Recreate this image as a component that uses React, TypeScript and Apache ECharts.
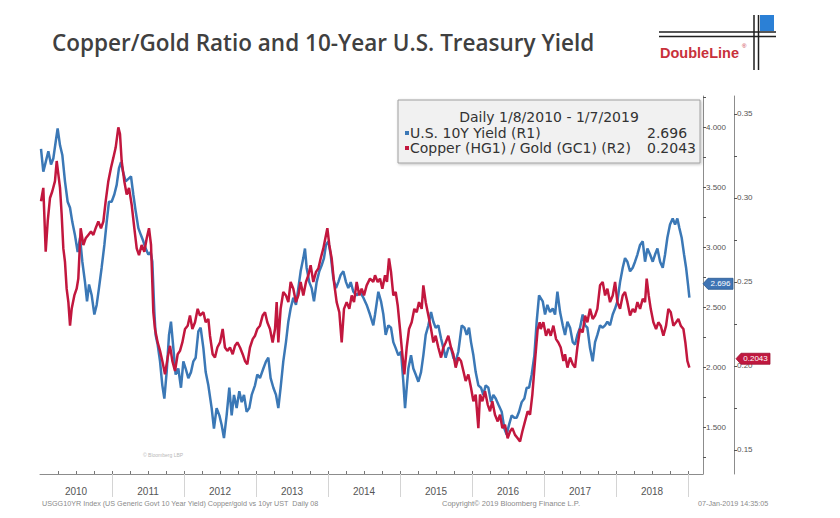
import React, { useEffect, useRef } from "react";
import * as echarts from "echarts";

const TITLE = "Copper/Gold Ratio and 10-Year U.S. Treasury Yield";
const LEGEND_HEADER = "Daily 1/8/2010 - 1/7/2019";
const YIELD_NAME = "U.S. 10Y Yield (R1)";
const RATIO_NAME = "Copper (HG1) / Gold (GC1) (R2)";
const LAST_YIELD = 2.696;
const LAST_RATIO = 0.2043;

const yearLabels = [2010, 2011, 2012, 2013, 2014, 2015, 2016, 2017, 2018];
const yearBoundaries = [2011, 2012, 2013, 2014, 2015, 2016, 2017, 2018, 2019];
const yieldTicks = [1.5, 2.0, 2.5, 3.0, 3.5, 4.0];
const ratioTicks = [0.15, 0.2, 0.25, 0.3, 0.35];

// US 10Y yield (R1) — [decimal year, %]
const yieldSeries: [number, number][] = [
  [2010.014, 3.82], [2010.046, 3.63], [2010.079, 3.71], [2010.116, 3.8], [2010.153, 3.69], [2010.185, 3.74], [2010.218, 3.88], [2010.245, 3.99], [2010.278, 3.85], [2010.31, 3.77], [2010.347, 3.55], [2010.384, 3.38], [2010.417, 3.33], [2010.449, 3.21], [2010.486, 3.1], [2010.523, 2.96], [2010.556, 3.08], [2010.588, 2.88], [2010.625, 2.71], [2010.653, 2.55], [2010.681, 2.69], [2010.718, 2.6], [2010.755, 2.44], [2010.787, 2.52], [2010.819, 2.66], [2010.856, 2.83], [2010.894, 3.02], [2010.926, 3.21], [2010.958, 3.38], [2010.995, 3.38],
  [2011.032, 3.44], [2011.065, 3.52], [2011.097, 3.66], [2011.125, 3.71], [2011.157, 3.62], [2011.19, 3.55], [2011.227, 3.57], [2011.264, 3.59], [2011.296, 3.44], [2011.329, 3.3], [2011.366, 3.16], [2011.403, 3.1], [2011.435, 3.05], [2011.468, 2.99], [2011.505, 2.94], [2011.537, 2.96], [2011.56, 2.88], [2011.588, 2.46], [2011.606, 2.27], [2011.634, 2.19], [2011.667, 2.05], [2011.699, 1.85], [2011.727, 1.74], [2011.759, 1.96], [2011.792, 2.27], [2011.819, 2.38], [2011.852, 2.16], [2011.884, 1.94], [2011.921, 1.99], [2011.958, 1.83], [2011.991, 2.05],
  [2012.023, 1.99], [2012.06, 1.91], [2012.097, 1.96], [2012.13, 2.05], [2012.162, 2.08], [2012.199, 2.3], [2012.231, 2.33], [2012.269, 2.16], [2012.301, 1.96], [2012.338, 1.85], [2012.384, 1.66], [2012.416, 1.49], [2012.453, 1.66], [2012.491, 1.6], [2012.523, 1.52], [2012.555, 1.41], [2012.592, 1.6], [2012.629, 1.83], [2012.662, 1.6], [2012.694, 1.77], [2012.731, 1.66], [2012.768, 1.8], [2012.801, 1.71], [2012.833, 1.77], [2012.87, 1.63], [2012.907, 1.66], [2012.94, 1.77], [2012.986, 1.85],
  [2013.018, 1.94], [2013.055, 1.91], [2013.102, 1.99], [2013.139, 2.05], [2013.171, 2.08], [2013.203, 1.91], [2013.241, 1.83], [2013.278, 1.77], [2013.31, 1.66], [2013.342, 1.83], [2013.379, 2.05], [2013.416, 2.21], [2013.449, 2.38], [2013.481, 2.49], [2013.518, 2.58], [2013.555, 2.52], [2013.588, 2.66], [2013.62, 2.8], [2013.657, 2.91], [2013.68, 2.99], [2013.703, 2.83], [2013.74, 2.71], [2013.773, 2.66], [2013.805, 2.55], [2013.842, 2.71], [2013.879, 2.8], [2013.912, 2.85], [2013.944, 2.91], [2013.972, 3.02],
  [2014.004, 3.05], [2014.037, 2.94], [2014.074, 2.74], [2014.111, 2.66], [2014.143, 2.71], [2014.176, 2.77], [2014.213, 2.8], [2014.25, 2.71], [2014.282, 2.66], [2014.315, 2.71], [2014.352, 2.63], [2014.398, 2.6], [2014.444, 2.63], [2014.491, 2.58], [2014.537, 2.52], [2014.583, 2.44], [2014.629, 2.35], [2014.653, 2.44], [2014.699, 2.63], [2014.736, 2.55], [2014.769, 2.44], [2014.801, 2.27], [2014.838, 2.35], [2014.875, 2.33], [2014.907, 2.21], [2014.94, 2.16], [2014.977, 2.1],
  [2015.014, 2.13], [2015.046, 1.88], [2015.07, 1.66], [2015.093, 1.83], [2015.116, 1.99], [2015.153, 2.1], [2015.185, 1.99], [2015.218, 1.94], [2015.255, 1.88], [2015.292, 1.96], [2015.324, 2.1], [2015.357, 2.27], [2015.394, 2.35], [2015.431, 2.46], [2015.463, 2.38], [2015.495, 2.33], [2015.532, 2.35], [2015.57, 2.24], [2015.602, 2.16], [2015.634, 2.08], [2015.671, 2.16], [2015.708, 2.16], [2015.741, 2.08], [2015.773, 2.05], [2015.81, 2.13], [2015.857, 2.35], [2015.894, 2.33], [2015.926, 2.27], [2015.958, 2.33], [2015.986, 2.21],
  [2016.019, 2.1], [2016.051, 1.96], [2016.088, 1.85], [2016.125, 1.83], [2016.157, 1.77], [2016.19, 1.85], [2016.227, 1.83], [2016.264, 1.71], [2016.296, 1.77], [2016.329, 1.74], [2016.366, 1.69], [2016.412, 1.63], [2016.449, 1.49], [2016.481, 1.44], [2016.514, 1.52], [2016.551, 1.6], [2016.588, 1.58], [2016.62, 1.58], [2016.653, 1.63], [2016.69, 1.71], [2016.727, 1.74], [2016.759, 1.83], [2016.792, 1.83], [2016.829, 1.94], [2016.866, 2.1], [2016.898, 2.38], [2016.931, 2.6], [2016.982, 2.55],
  [2017.014, 2.44], [2017.047, 2.52], [2017.084, 2.46], [2017.121, 2.49], [2017.153, 2.44], [2017.186, 2.63], [2017.223, 2.46], [2017.26, 2.35], [2017.292, 2.27], [2017.325, 2.38], [2017.362, 2.33], [2017.399, 2.21], [2017.431, 2.19], [2017.463, 2.27], [2017.5, 2.33], [2017.537, 2.44], [2017.57, 2.35], [2017.602, 2.33], [2017.639, 2.16], [2017.676, 2.05], [2017.709, 2.21], [2017.741, 2.27], [2017.778, 2.35], [2017.815, 2.33], [2017.848, 2.35], [2017.88, 2.38], [2017.917, 2.35], [2017.954, 2.44], [2017.987, 2.49],
  [2018.019, 2.55], [2018.056, 2.71], [2018.093, 2.83], [2018.125, 2.91], [2018.158, 2.88], [2018.195, 2.8], [2018.232, 2.83], [2018.264, 2.88], [2018.297, 2.94], [2018.334, 3.02], [2018.371, 3.05], [2018.403, 2.88], [2018.436, 2.99], [2018.473, 2.94], [2018.51, 2.88], [2018.542, 2.94], [2018.575, 2.99], [2018.612, 2.88], [2018.649, 2.83], [2018.681, 2.94], [2018.713, 3.08], [2018.75, 3.19], [2018.787, 3.24], [2018.82, 3.19], [2018.852, 3.24], [2018.88, 3.16], [2018.912, 3.08], [2018.945, 2.94], [2018.973, 2.83], [2019.0, 2.69], [2019.019, 2.58],
];

// Copper (HG1) / Gold (GC1) ratio (R2) — [decimal year, ratio]
const ratioSeries: [number, number][] = [
  [2010.014, 0.298], [2010.046, 0.306], [2010.079, 0.268], [2010.107, 0.286], [2010.139, 0.3], [2010.171, 0.304], [2010.208, 0.31], [2010.232, 0.322], [2010.255, 0.314], [2010.278, 0.306], [2010.301, 0.29], [2010.324, 0.27], [2010.347, 0.262], [2010.37, 0.246], [2010.394, 0.238], [2010.417, 0.224], [2010.44, 0.234], [2010.477, 0.242], [2010.509, 0.246], [2010.532, 0.252], [2010.565, 0.282], [2010.602, 0.272], [2010.634, 0.276], [2010.671, 0.278], [2010.708, 0.28], [2010.741, 0.278], [2010.773, 0.282], [2010.81, 0.286], [2010.847, 0.282], [2010.88, 0.286], [2010.912, 0.298], [2010.949, 0.31], [2010.986, 0.318],
  [2011.019, 0.324], [2011.051, 0.33], [2011.088, 0.342], [2011.111, 0.338], [2011.134, 0.322], [2011.171, 0.31], [2011.204, 0.302], [2011.236, 0.306], [2011.273, 0.296], [2011.31, 0.282], [2011.343, 0.27], [2011.375, 0.266], [2011.412, 0.272], [2011.449, 0.268], [2011.482, 0.276], [2011.514, 0.282], [2011.542, 0.272], [2011.574, 0.232], [2011.597, 0.222], [2011.634, 0.214], [2011.667, 0.209], [2011.699, 0.203], [2011.736, 0.195], [2011.773, 0.205], [2011.806, 0.212], [2011.838, 0.203], [2011.875, 0.197], [2011.912, 0.207], [2011.944, 0.209], [2011.977, 0.214],
  [2012.014, 0.222], [2012.051, 0.224], [2012.083, 0.23], [2012.116, 0.222], [2012.153, 0.226], [2012.19, 0.234], [2012.222, 0.23], [2012.269, 0.232], [2012.301, 0.226], [2012.338, 0.228], [2012.361, 0.218], [2012.398, 0.207], [2012.43, 0.205], [2012.463, 0.211], [2012.5, 0.214], [2012.537, 0.222], [2012.569, 0.211], [2012.602, 0.209], [2012.639, 0.211], [2012.676, 0.207], [2012.708, 0.212], [2012.741, 0.214], [2012.778, 0.211], [2012.815, 0.207], [2012.847, 0.203], [2012.879, 0.201], [2012.916, 0.211], [2012.954, 0.216], [2012.986, 0.218],
  [2013.018, 0.222], [2013.055, 0.224], [2013.092, 0.23], [2013.125, 0.232], [2013.157, 0.226], [2013.194, 0.222], [2013.231, 0.214], [2013.264, 0.222], [2013.287, 0.238], [2013.31, 0.214], [2013.342, 0.234], [2013.379, 0.244], [2013.416, 0.242], [2013.449, 0.238], [2013.481, 0.25], [2013.518, 0.246], [2013.555, 0.238], [2013.588, 0.242], [2013.62, 0.25], [2013.657, 0.242], [2013.694, 0.25], [2013.727, 0.254], [2013.759, 0.26], [2013.796, 0.25], [2013.833, 0.256], [2013.866, 0.258], [2013.898, 0.264], [2013.935, 0.27], [2013.963, 0.276], [2013.991, 0.282],
  [2014.018, 0.272], [2014.051, 0.264], [2014.083, 0.25], [2014.12, 0.238], [2014.157, 0.232], [2014.19, 0.214], [2014.222, 0.234], [2014.259, 0.238], [2014.296, 0.234], [2014.329, 0.242], [2014.361, 0.238], [2014.398, 0.25], [2014.435, 0.242], [2014.467, 0.246], [2014.5, 0.242], [2014.537, 0.248], [2014.583, 0.252], [2014.629, 0.25], [2014.653, 0.254], [2014.69, 0.25], [2014.722, 0.252], [2014.755, 0.246], [2014.792, 0.254], [2014.819, 0.25], [2014.847, 0.264], [2014.875, 0.256], [2014.907, 0.242], [2014.94, 0.244], [2014.968, 0.236],
  [2015.0, 0.222], [2015.032, 0.207], [2015.06, 0.195], [2015.093, 0.211], [2015.125, 0.222], [2015.162, 0.226], [2015.199, 0.234], [2015.232, 0.232], [2015.264, 0.238], [2015.301, 0.234], [2015.324, 0.248], [2015.357, 0.238], [2015.394, 0.23], [2015.431, 0.222], [2015.463, 0.214], [2015.495, 0.218], [2015.532, 0.211], [2015.57, 0.205], [2015.602, 0.211], [2015.634, 0.214], [2015.671, 0.218], [2015.708, 0.211], [2015.741, 0.207], [2015.773, 0.199], [2015.81, 0.205], [2015.847, 0.203], [2015.88, 0.197], [2015.912, 0.191], [2015.949, 0.195], [2015.986, 0.187],
  [2016.019, 0.179], [2016.051, 0.183], [2016.088, 0.163], [2016.111, 0.183], [2016.144, 0.179], [2016.181, 0.185], [2016.218, 0.177], [2016.25, 0.173], [2016.282, 0.179], [2016.319, 0.171], [2016.357, 0.167], [2016.389, 0.171], [2016.421, 0.163], [2016.458, 0.165], [2016.495, 0.157], [2016.528, 0.161], [2016.56, 0.163], [2016.597, 0.159], [2016.634, 0.157], [2016.667, 0.155], [2016.699, 0.161], [2016.736, 0.167], [2016.773, 0.173], [2016.806, 0.171], [2016.838, 0.183], [2016.875, 0.203], [2016.912, 0.222], [2016.94, 0.226], [2016.954, 0.222], [2016.991, 0.226],
  [2017.028, 0.218], [2017.061, 0.222], [2017.093, 0.218], [2017.13, 0.224], [2017.167, 0.216], [2017.199, 0.214], [2017.232, 0.211], [2017.269, 0.203], [2017.292, 0.207], [2017.325, 0.199], [2017.362, 0.205], [2017.399, 0.201], [2017.431, 0.199], [2017.463, 0.211], [2017.5, 0.222], [2017.537, 0.22], [2017.57, 0.23], [2017.602, 0.226], [2017.639, 0.234], [2017.676, 0.228], [2017.709, 0.23], [2017.741, 0.234], [2017.778, 0.248], [2017.815, 0.25], [2017.848, 0.242], [2017.88, 0.246], [2017.917, 0.238], [2017.954, 0.242], [2017.987, 0.25],
  [2018.019, 0.238], [2018.056, 0.234], [2018.093, 0.242], [2018.125, 0.244], [2018.158, 0.238], [2018.195, 0.23], [2018.232, 0.234], [2018.264, 0.232], [2018.297, 0.238], [2018.334, 0.234], [2018.371, 0.24], [2018.403, 0.238], [2018.426, 0.252], [2018.454, 0.242], [2018.482, 0.234], [2018.519, 0.226], [2018.556, 0.222], [2018.588, 0.226], [2018.621, 0.224], [2018.658, 0.218], [2018.695, 0.224], [2018.727, 0.234], [2018.76, 0.232], [2018.797, 0.224], [2018.834, 0.226], [2018.866, 0.228], [2018.899, 0.224], [2018.936, 0.222], [2018.963, 0.214], [2018.991, 0.203], [2019.019, 0.199],
];

const BLUE = "#3b78b6";
const RED = "#c2173e";
const X_MIN = 2010;
const X_MAX = 2019.208;
const Y1_MIN = 1.111;
const Y1_MAX = 4.261;
const Y2_MIN = 0.1357;
const Y2_MAX = 0.3607;

function steps(from: number, to: number, step: number): number[] {
  const out: number[] = [];
  for (let v = from; v <= to + 1e-9; v += step) out.push(Math.round(v * 10000) / 10000);
  return out;
}

export default function App() {
  const ref = useRef<HTMLDivElement>(null);

  useEffect(() => {
    if (!ref.current) return;
    const chart = echarts.init(ref.current, null, { renderer: "svg" });
    const labelFont = "Liberation Sans";

    chart.setOption({
      animation: false,
      backgroundColor: "#ffffff",
      grid: { left: 40, right: 137, top: 96, bottom: 44, containLabel: false },
      xAxis: [
        {
          type: "value",
          min: X_MIN,
          max: X_MAX,
          position: "bottom",
          axisLine: { show: true, lineStyle: { color: "#8c8c8c", width: 1 } },
          axisTick: {
            show: true,
            inside: false,
            length: 23,
            customValues: yearBoundaries,
            lineStyle: { color: "#d4d4d4", width: 1 },
          },
          axisLabel: {
            show: true,
            customValues: yearLabels.map((y) => y + 0.5),
            formatter: (v: number) => String(Math.floor(v)),
            margin: 12,
            fontSize: 10,
            fontFamily: labelFont,
            color: "#555",
          },
          splitLine: { show: false },
        },
        {
          type: "value",
          min: X_MIN,
          max: X_MAX,
          position: "bottom",
          axisLine: { show: false },
          axisTick: {
            show: true,
            inside: true,
            length: 3,
            customValues: steps(2010.25, 2019, 0.25),
            lineStyle: { color: "#777", width: 1 },
          },
          axisLabel: { show: false },
          splitLine: { show: false },
        },
      ],
      yAxis: [
        {
          type: "value",
          position: "right",
          min: Y1_MIN,
          max: Y1_MAX,
          offset: 0,
          axisLine: { show: true, lineStyle: { color: "#8c8c8c", width: 1 } },
          axisTick: {
            show: true,
            length: 3,
            customValues: steps(1.25, 4.25, 0.25),
            lineStyle: { color: "#555" },
          },
          axisLabel: {
            customValues: yieldTicks,
            formatter: (v: number) => v.toFixed(3),
            fontSize: 8,
            fontFamily: labelFont,
            color: "#555",
            margin: 3,
          },
          splitLine: { show: false },
        },
        {
          type: "value",
          position: "right",
          min: Y2_MIN,
          max: Y2_MAX,
          offset: 31,
          axisLine: { show: true, lineStyle: { color: "#8c8c8c", width: 1 } },
          axisTick: {
            show: true,
            length: 3,
            customValues: steps(0.15, 0.35, 0.025),
            lineStyle: { color: "#555" },
          },
          axisLabel: {
            customValues: ratioTicks,
            formatter: (v: number) => v.toFixed(2),
            fontSize: 8,
            fontFamily: labelFont,
            color: "#555",
            margin: 3,
          },
          splitLine: { show: false },
        },
      ],
      series: [
        {
          name: YIELD_NAME,
          type: "line",
          xAxisIndex: 0,
          yAxisIndex: 0,
          data: yieldSeries,
          showSymbol: false,
          lineStyle: { color: BLUE, width: 2.5 },
          itemStyle: { color: BLUE },
          z: 2,
        },
        {
          name: RATIO_NAME,
          type: "line",
          xAxisIndex: 0,
          yAxisIndex: 1,
          data: ratioSeries,
          showSymbol: false,
          lineStyle: { color: RED, width: 2.5 },
          itemStyle: { color: RED },
          z: 3,
        },
      ],
    });

    const yB = chart.convertToPixel({ yAxisIndex: 0 }, LAST_YIELD) as number;
    const yR = chart.convertToPixel({ yAxisIndex: 1 }, LAST_RATIO) as number;
    const legendFont = '14px "DejaVu Sans"';
    const footFont = '7.2px "Liberation Sans"';

    chart.setOption({
      graphic: [
        // title
        { type: "text", x: 52, y: 42, z: 10, style: { text: TITLE, font: '600 22.5px "Open Sans"', fill: "#404040", verticalAlign: "middle" } },
        // logo
        { type: "line", z: 10, shape: { x1: 659, y1: 32, x2: 776, y2: 32 }, style: { stroke: "#1f1f1f", lineWidth: 1.5 } },
        { type: "line", z: 10, shape: { x1: 659, y1: 36.5, x2: 776, y2: 36.5 }, style: { stroke: "#1f1f1f", lineWidth: 1.5 } },
        { type: "line", z: 10, shape: { x1: 754, y1: 15, x2: 754, y2: 70 }, style: { stroke: "#1f1f1f", lineWidth: 1.5 } },
        { type: "line", z: 10, shape: { x1: 758.5, y1: 15, x2: 758.5, y2: 70 }, style: { stroke: "#1f1f1f", lineWidth: 1.5 } },
        { type: "rect", z: 11, shape: { x: 760, y: 15, width: 14, height: 16 }, style: { fill: "#2b80d6" } },
        { type: "text", x: 660, y: 53, z: 10, style: { text: "DoubleLine", font: 'bold 14.5px "Liberation Sans"', fill: "#c8313b", verticalAlign: "middle" } },
        { type: "text", x: 742, y: 46, z: 10, style: { text: "®", font: '6px "Liberation Sans"', fill: "#c8313b", verticalAlign: "middle" } },
        // legend box
        {
          type: "rect",
          z: 20,
          shape: { x: 398, y: 100, width: 302, height: 63 },
          style: { fill: "#f1f1f1", stroke: "#a0a0a0", lineWidth: 1, shadowBlur: 3, shadowOffsetX: 1, shadowOffsetY: 1, shadowColor: "rgba(0,0,0,0.25)" },
        },
        { type: "text", x: 549, y: 117, z: 21, style: { text: LEGEND_HEADER, font: legendFont, fill: "#333", align: "center", verticalAlign: "middle" } },
        { type: "rect", z: 21, shape: { x: 405, y: 131, width: 4, height: 4 }, style: { fill: BLUE } },
        { type: "text", x: 410, y: 133, z: 21, style: { text: YIELD_NAME, font: legendFont, fill: "#333", verticalAlign: "middle" } },
        { type: "text", x: 647, y: 133, z: 21, style: { text: LAST_YIELD.toFixed(3), font: legendFont, fill: "#333", verticalAlign: "middle" } },
        { type: "rect", z: 21, shape: { x: 405, y: 146, width: 4, height: 4 }, style: { fill: RED } },
        { type: "text", x: 410, y: 148, z: 21, style: { text: RATIO_NAME, font: legendFont, fill: "#333", verticalAlign: "middle" } },
        { type: "text", x: 647, y: 148, z: 21, style: { text: LAST_RATIO.toFixed(4), font: legendFont, fill: "#333", verticalAlign: "middle" } },
        // last value tags
        {
          type: "polygon",
          z: 30,
          shape: { points: [[703, yB], [708, yB - 5.5], [733, yB - 5.5], [733, yB + 5.5], [708, yB + 5.5]] },
          style: { fill: "#3f74b4", stroke: "#2b5a90", lineWidth: 0.8 },
        },
        { type: "text", x: 720.5, y: yB, z: 31, style: { text: LAST_YIELD.toFixed(3), font: '8px "Liberation Sans"', fill: "#ffffff", align: "center", verticalAlign: "middle" } },
        {
          type: "polygon",
          z: 30,
          shape: { points: [[736, yR], [741, yR - 5.5], [770, yR - 5.5], [770, yR + 5.5], [741, yR + 5.5]] },
          style: { fill: "#c0183f", stroke: "#9e1233", lineWidth: 0.8 },
        },
        { type: "text", x: 755.5, y: yR, z: 31, style: { text: LAST_RATIO.toFixed(4), font: '8px "Liberation Sans"', fill: "#ffffff", align: "center", verticalAlign: "middle" } },
        // watermark & footer
        { type: "text", x: 143, y: 455, z: 5, style: { text: "© Bloomberg LBP", font: '5px "Liberation Sans"', fill: "#b8b8b8", verticalAlign: "middle" } },
        { type: "text", x: 42, y: 503, z: 5, style: { text: "USGG10YR Index (US Generic Govt 10 Year Yield) Copper/gold vs 10yr UST  Daily 08", font: footFont, fill: "#8a8a8a", verticalAlign: "middle" } },
        { type: "text", x: 442, y: 503, z: 5, style: { text: "Copyright© 2019 Bloomberg Finance L.P.", font: '7.5px "Liberation Sans"', fill: "#8a8a8a", verticalAlign: "middle" } },
        { type: "text", x: 698, y: 503, z: 5, style: { text: "07-Jan-2019 14:35:05", font: footFont, fill: "#8a8a8a", verticalAlign: "middle" } },
      ],
    });

    return () => chart.dispose();
  }, []);

  return <div ref={ref} style={{ position: "absolute", left: 0, top: 0, width: 840, height: 518 }} />;
}
